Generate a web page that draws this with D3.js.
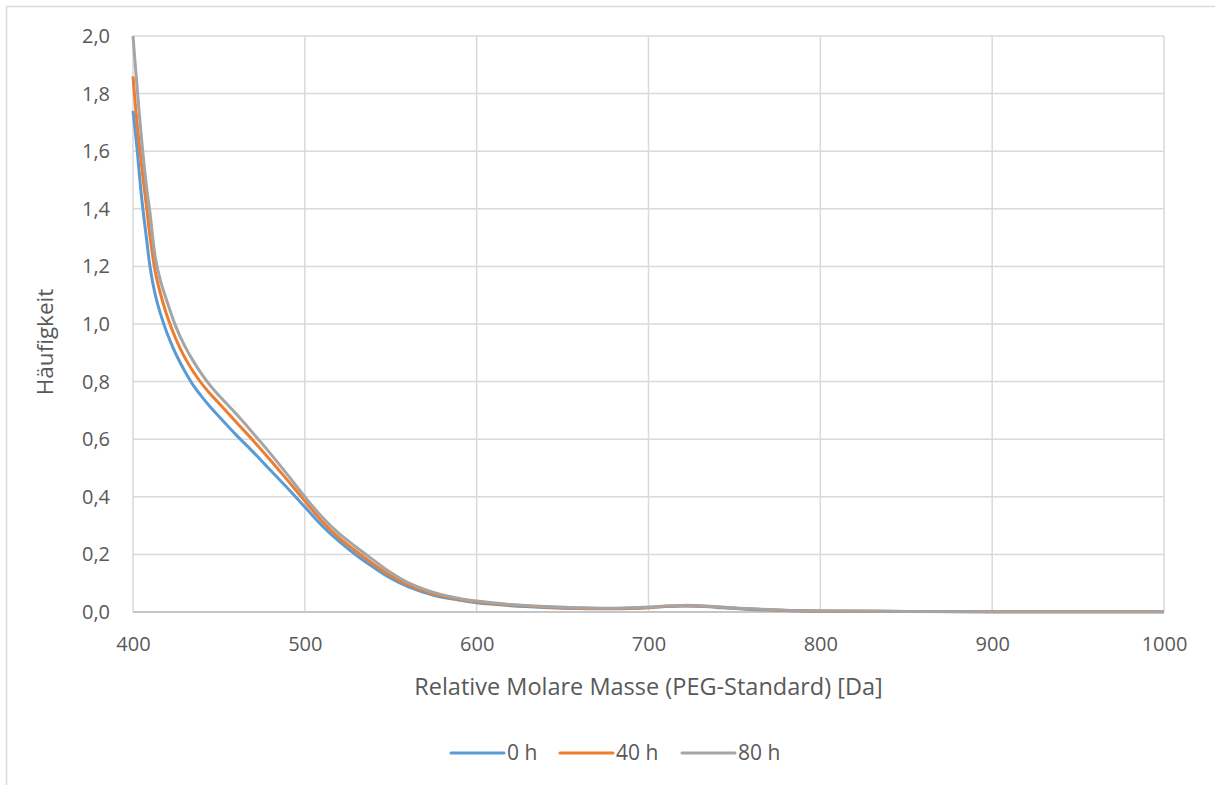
<!DOCTYPE html>
<html>
<head>
<meta charset="utf-8">
<script src="https://cdn.jsdelivr.net/npm/d3@7"></script>
<style>
  body { margin: 0; background: #fff; }
  svg text { font-family: "Open Sans", sans-serif; fill: #595959; }
</style>
</head>
<body>
<div id="chart"></div>
<script>
// molar mass sample points [Da]
var masses = [400, 402, 405, 408, 410, 413, 416, 420, 425, 430, 435, 440, 445, 450, 460, 470, 480, 490, 500,
    510, 520, 530, 540, 550, 560, 575, 590, 600, 620, 640, 660, 680, 700, 710, 720, 730, 740, 760, 780,
    800, 850, 900, 950, 1000];
var h0 = [1.74, 1.63, 1.44, 1.29, 1.195, 1.10, 1.035, 0.965, 0.895, 0.838, 0.788, 0.748, 0.712, 0.679, 0.615, 0.555, 0.492, 0.43, 0.365,
    0.30, 0.245, 0.197, 0.155, 0.117, 0.088, 0.058, 0.041, 0.032, 0.022, 0.016, 0.012, 0.011, 0.015, 0.019, 0.021, 0.02, 0.016, 0.009, 0.005,
    0.003, 0.002, 0.001, 0.001, 0.001];
var h40 = [1.86, 1.72, 1.55, 1.40, 1.30, 1.18, 1.105, 1.025, 0.947, 0.885, 0.835, 0.793, 0.757, 0.725, 0.66, 0.595, 0.527, 0.457, 0.385,
    0.315, 0.257, 0.21, 0.166, 0.126, 0.094, 0.062, 0.044, 0.035, 0.024, 0.017, 0.013, 0.012, 0.016, 0.02, 0.022, 0.021, 0.017, 0.01, 0.005,
    0.003, 0.002, 0.001, 0.001, 0.001];
var h80 = [2.0, 1.85, 1.64, 1.47, 1.38, 1.23, 1.15, 1.075, 0.99, 0.925, 0.872, 0.826, 0.786, 0.752, 0.688, 0.62, 0.55, 0.476, 0.40,
    0.33, 0.272, 0.225, 0.18, 0.137, 0.102, 0.068, 0.047, 0.038, 0.026, 0.019, 0.015, 0.013, 0.017, 0.021, 0.023, 0.022, 0.018, 0.011, 0.006,
    0.004, 0.002, 0.001, 0.001, 0.001];
var seriesNames = ["0 h", "40 h", "80 h"];
var xTicks = [400, 500, 600, 700, 800, 900, 1000];
var yTicks = [0, 0.2, 0.4, 0.6, 0.8, 1.0, 1.2, 1.4, 1.6, 1.8, 2.0];

var colors = ["#5B9BD5", "#ED7D31", "#A5A5A5"];
var W = 1215, H = 785;
var margin = {top: 36, right: 51, bottom: 173, left: 133};
var width = W - margin.left - margin.right,
    height = H - margin.top - margin.bottom;

var de = d3.formatLocale({decimal: ",", thousands: ".", grouping: [3], currency: ["", " €"]});
var fmt = de.format(".1f");

var svg = d3.select("#chart").append("svg")
    .attr("width", W)
    .attr("height", H);

// chart area border (runs off the picture on right/bottom)
svg.append("rect")
    .attr("x", 6.5).attr("y", 6.5)
    .attr("width", 1400).attr("height", 1000)
    .attr("fill", "none")
    .attr("stroke", "#d9d9d9")
    .attr("stroke-width", 1.5);

var g = svg.append("g")
    .attr("transform", "translate(" + margin.left + "," + margin.top + ")");

var x = d3.scaleLinear().domain([400, 1000]).range([0, width]);
var y = d3.scaleLinear().domain([0, 2]).range([height, 0]);

// gridlines
g.append("g").selectAll("line.h")
    .data(yTicks).enter().append("line")
    .attr("x1", 0).attr("x2", width)
    .attr("y1", function (d) { return y(d); })
    .attr("y2", function (d) { return y(d); })
    .attr("stroke", "#d9d9d9")
    .attr("stroke-width", 1.5);
g.append("g").selectAll("line.v")
    .data(xTicks).enter().append("line")
    .attr("y1", 0).attr("y2", height)
    .attr("x1", function (d) { return x(d); })
    .attr("x2", function (d) { return x(d); })
    .attr("stroke", "#d9d9d9")
    .attr("stroke-width", 1.5);

// axis line
g.append("line")
    .attr("x1", 0).attr("x2", width)
    .attr("y1", height).attr("y2", height)
    .attr("stroke", "#c6c6c6")
    .attr("stroke-width", 2);

// y tick labels
var yAxis = d3.axisLeft(y).tickValues(yTicks).tickFormat(fmt).tickSize(0).tickPadding(23);
var ya = g.append("g").call(yAxis);
ya.select(".domain").remove();
ya.selectAll("text").style("font-size", "20px").attr("fill", "#595959");

// x tick labels
var xAxis = d3.axisBottom(x).tickValues(xTicks).tickFormat(d3.format("d")).tickSize(0).tickPadding(25);
var xa = g.append("g").attr("transform", "translate(0," + height + ")").call(xAxis);
xa.select(".domain").remove();
xa.selectAll("text").style("font-size", "20px").attr("fill", "#595959");

// axis titles
svg.append("text")
    .attr("x", margin.left + width / 2)
    .attr("y", 695)
    .attr("text-anchor", "middle")
    .style("font-size", "23.5px")
    .text("Relative Molare Masse (PEG-Standard) [Da]");

svg.append("text")
    .attr("transform", "translate(53,342) rotate(-90)")
    .attr("text-anchor", "middle")
    .style("font-size", "22.5px")
    .text("Häufigkeit");

// lines
var line = d3.line()
    .curve(d3.curveCatmullRom.alpha(0.5))
    .x(function (d) { return x(d[0]); })
    .y(function (d) { return y(d[1]); });

var allSeries = [h0, h40, h80];
allSeries.forEach(function (vals, i) {
    g.append("path")
        .datum(masses.map(function (m, j) { return [m, vals[j]]; }))
        .attr("fill", "none")
        .attr("stroke", colors[i])
        .attr("stroke-width", 3)
        .attr("stroke-linejoin", "round")
        .attr("d", line);
});

// legend
var legendX = [451, 560, 682];
var leg = svg.append("g");
seriesNames.forEach(function (name, i) {
    leg.append("line")
        .attr("x1", legendX[i]).attr("x2", legendX[i] + 53)
        .attr("y1", 753).attr("y2", 753)
        .attr("stroke", colors[i])
        .attr("stroke-width", 3)
        .attr("stroke-linecap", "round");
    leg.append("text")
        .attr("x", legendX[i] + 56)
        .attr("y", 760)
        .style("font-size", "21px")
        .text(name);
});
</script>
</body>
</html>
